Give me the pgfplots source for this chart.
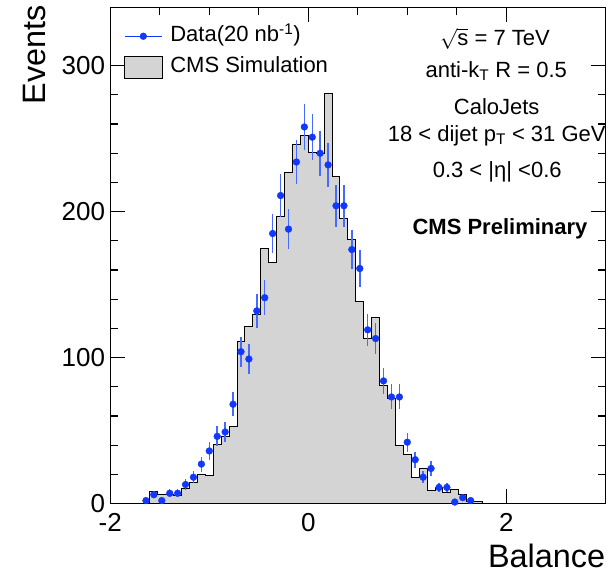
\documentclass[border=0pt]{standalone}
\usepackage{pgfplots}
\usepackage{pgfplotstable}
\pgfplotsset{compat=1.18}
\usepackage{fontspec}
\setmainfont{Liberation Sans}
\definecolor{datablue}{RGB}{16,56,255}
\definecolor{errblue}{RGB}{70,105,255}
\definecolor{histgray}{RGB}{212,212,212}

\pgfplotstableread{
x y e
-1.64 2 1.41
-1.56 6 2.45
-1.48 2 1.41
-1.40 7 2.65
-1.32 7 2.65
-1.24 13 3.61
-1.16 18 4.24
-1.08 27 5.20
-1.00 36 6.00
-0.92 46 6.78
-0.84 49 7.00
-0.76 68 8.25
-0.68 104 10.20
-0.60 99 9.95
-0.52 132 11.49
-0.44 141 11.87
-0.36 185 13.60
-0.28 211 14.53
-0.20 188 13.71
-0.12 234 15.30
-0.04 258 16.06
0.04 251 15.84
0.12 240 15.49
0.20 232 15.23
0.28 204 14.28
0.36 204 14.28
0.44 174 13.19
0.52 161 12.69
0.60 119 10.91
0.68 113 10.63
0.76 84 9.17
0.84 73 8.54
0.92 73 8.54
1.00 42 6.48
1.08 30 5.48
1.16 18 4.24
1.24 24 4.90
1.32 11 3.32
1.40 11 3.32
1.48 1 1.00
1.56 4 2.00
1.64 2 1.41
}\datatab

\pgfplotstableread{
x y
-1.60 8
-1.52 6
-1.44 6
-1.36 5.5
-1.28 10
-1.20 14.6
-1.12 20.2
-1.04 19.3
-0.96 40.5
-0.88 45.6
-0.80 52.8
-0.72 110.8
-0.64 121.1
-0.56 129.8
-0.48 174.8
-0.40 165.4
-0.32 196.4
-0.24 226.8
-0.16 246
-0.08 252.2
0.00 240.8
0.08 239.5
0.16 281
0.24 223.9
0.32 195.3
0.40 181.2
0.48 138.5
0.56 113.1
0.64 127.3
0.72 80.7
0.80 72
0.88 40
0.96 33.8
1.04 17.8
1.12 23.9
1.20 8.8
1.28 11
1.36 7.2
1.44 9.7
1.52 6.4
1.60 1.3
1.68 1.3
1.76 1.3
}\histtab

\begin{document}
\begin{tikzpicture}
\begin{axis}[
  scale only axis, width=495pt, height=496.2pt,
  xmin=-2, xmax=3, ymin=0, ymax=340,
  xtick={-2,0,2}, xticklabels={-2,0,2},
  ytick={0,100,200,300}, yticklabels={0,100,200,300},
  minor x tick num=3, minor y tick num=4,
  major tick length=14.5pt, minor tick length=7.3pt,
  tick align=inside,
  tick style={black, line width=1.2pt},
  axis line style={line width=1.5pt},
  ticklabel style={font=\fontsize{26}{30}\selectfont, inner sep=0pt},
  xticklabel style={yshift=-10pt},
  yticklabel style={xshift=-5pt},
  xlabel={Balance}, ylabel={Events},
  label style={font=\fontsize{32.4}{36}\selectfont, inner sep=0pt},
  xlabel style={at={(axis description cs:1,-0.128)}, anchor=base east},
  ylabel style={at={(axis description cs:-0.1299,1.0046)}, anchor=base east, rotate=0},
  reverse legend,
  legend style={draw=none, fill=none, inner sep=0pt,
    at={(axis description cs:0.0277,0.963)}, anchor=north west,
    font=\fontsize{22}{26}\selectfont, column sep=7pt, row sep=9pt,
    nodes={inner sep=0pt, text height=15.8pt, text depth=5pt}},
  legend cell align=left,
]
\addplot[const plot, fill=histgray, draw=black, line width=1pt,
  legend image code/.code={\draw[fill=histgray, draw=black, line width=1pt] (0pt,-11pt) rectangle (38pt,11pt);}]
  table[x=x, y=y] {\histtab} \closedcycle;
\addlegendentry{CMS Simulation}
\addplot[only marks, mark=*, mark size=3.4pt, datablue,
  mark options={fill=datablue, draw=datablue},
  legend image code/.code={\draw[datablue, line width=1.2pt] (0pt,0pt) -- (37pt,0pt); \fill[datablue] (18.5pt,0pt) circle (3.4pt);},
  error bars/.cd, y dir=both, y explicit, error mark=none,
  error bar style={errblue, line width=1.5pt},
  ]
  table[x=x, y=y, y error=e] {\datatab};
\addlegendentry{Data(20 nb\textsuperscript{-1})}
\end{axis}
\path (-110.3pt,-69.5pt) rectangle (505.7pt,503.5pt);
\begin{scope}[every node/.style={font=\fontsize{22}{26}\selectfont, inner sep=0pt, anchor=base}]
\node at (384.7pt,457.5pt) {$\sqrt{\hbox{s}}$ = 7 TeV};
\node at (386.0pt,426.2pt) {anti-k\textsubscript{T} R = 0.5};
\node at (386.4pt,389.0pt) {CaloJets};
\node at (386.4pt,362.0pt) {18 < dijet p\textsubscript{T} < 31 GeV};
\node at (386.9pt,326.2pt) {0.3 < |η| <0.6};
\node at (389.7pt,268.5pt) {\textbf{CMS Preliminary}};
\end{scope}
\end{tikzpicture}
\end{document}
